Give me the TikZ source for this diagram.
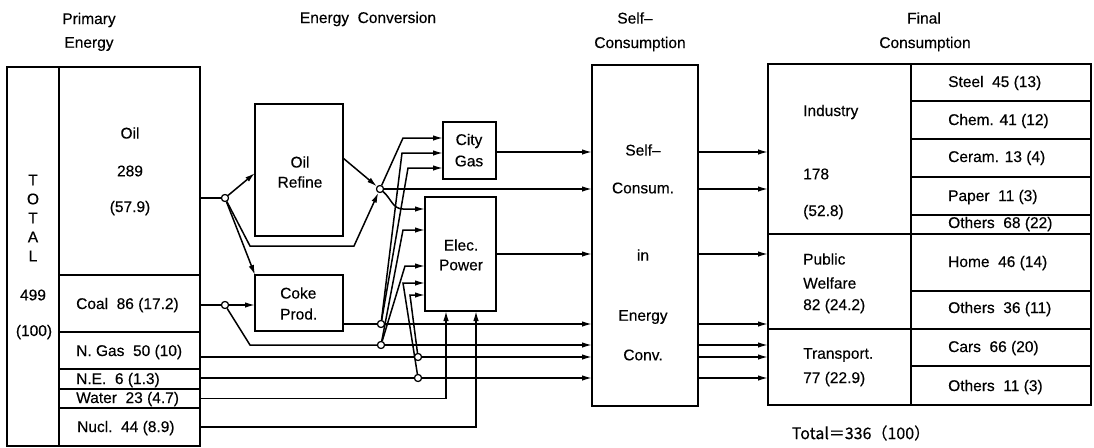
\documentclass[tikz,border=0pt]{standalone}
\usepackage{fontspec}
\setmainfont{Liberation Sans}[FakeBold=0.35]
\newfontfamily\cjkjp{Noto Sans CJK JP}[FakeBold=0.35]
\usetikzlibrary{arrows.meta}
\begin{document}
\begin{tikzpicture}[x=1pt,y=-1pt,
  box/.style={draw, line width=2.3pt, inner sep=0pt, outer sep=0pt},
  ln/.style={line width=1.5pt},
  arr/.style={ln, -{Latex[length=10pt,width=5.5pt]}},
  jn/.style={circle, draw, fill=white, line width=1.1pt, inner sep=0pt, minimum size=7pt},
  txt/.style={inner sep=0pt, font=\fontsize{15.5}{18}\selectfont},
  ltxt/.style={txt, anchor=west}]
\useasboundingbox (0,0) rectangle (1094,447);

% headers
\node[txt] (h1a) at (89,20) {Primary};
\node[txt] (h1b) at (89,44) {Energy};
\node[txt] (h2) at (368,19) {Energy\ \ Conversion};
\node[txt] (h3a) at (635,18) {Self–};
\node[txt] (h3b) at (640,44) {Consumption};
\node[txt] (h4a) at (924,18) {Final};
\node[txt] (h4b) at (925,44) {Consumption};

% primary energy block
\node[box, minimum width=52pt, minimum height=379pt] (total) at (33,256.5) {};
\node[box, minimum width=141pt, minimum height=208pt] (oil) at (129.5,171) {};
\node[box, minimum width=141pt, minimum height=57pt] (coal) at (129.5,303.5) {};
\node[box, minimum width=141pt, minimum height=37pt] (ngas) at (129.5,350.5) {};
\node[box, minimum width=141pt, minimum height=20pt] (ne) at (129.5,379) {};
\node[box, minimum width=141pt, minimum height=19pt] (water) at (129.5,398.5) {};
\node[box, minimum width=141pt, minimum height=38pt] (nucl) at (129.5,427) {};

\node[txt, align=center, font=\fontsize{15.5}{19}\selectfont] (ttot) at (33,218) {T\\O\\T\\A\\L};
\node[txt] (t499) at (33,295) {499};
\node[txt] (t100) at (34,332) {(100)};
\node[txt] (toil1) at (130,133) {Oil};
\node[txt] (toil2) at (130,171) {289};
\node[txt] (toil3) at (130,208) {(57.9)};
\node[ltxt] (tcoal) at (76,305) {Coal\ \ 86 (17.2)};
\node[ltxt] (tngas) at (76,352) {N. Gas\ \ 50 (10)};
\node[ltxt] (tne) at (76,380) {N.E.\ \ 6 (1.3)};
\node[ltxt] (twater) at (76,399) {Water\ \ 23 (4.7)};
\node[ltxt] (tnucl) at (77,428) {Nucl.\ \ 44 (8.9)};

% conversion boxes
\node[box, minimum width=88pt, minimum height=132pt] (refine) at (299,170) {};
\node[txt] (trefa) at (300,162) {Oil};
\node[txt] (trefb) at (300,182) {Refine};
\node[box, minimum width=88pt, minimum height=56pt] (coke) at (299,303) {};
\node[ltxt] (tcokea) at (280,293) {Coke};
\node[ltxt] (tcokeb) at (280,314) {Prod.};
\node[box, minimum width=53pt, minimum height=57pt] (city) at (469.5,150.5) {};
\node[txt] (tcitya) at (469,141) {City};
\node[txt] (tcityb) at (469,161) {Gas};
\node[box, minimum width=71pt, minimum height=114pt] (elec) at (460.5,254) {};
\node[txt] (teleca) at (461,245) {Elec.};
\node[txt] (telecb) at (461,265) {Power};

% self consumption
\node[box, minimum width=106pt, minimum height=341pt] (self) at (645,235.5) {};
\node[txt] (ts1) at (643,150) {Self–};
\node[txt] (ts2) at (643,188) {Consum.};
\node[txt] (ts3) at (643,255) {in};
\node[txt] (ts4) at (643,317) {Energy};
\node[txt] (ts5) at (643,355) {Conv.};

% final consumption
\node[box, minimum width=143pt, minimum height=170pt] (ind) at (839.5,149) {};
\node[box, minimum width=143pt, minimum height=95pt] (pub) at (839.5,281.5) {};
\node[box, minimum width=143pt, minimum height=76pt] (tra) at (839.5,367) {};
\node[box, minimum width=180pt, minimum height=37pt] (steel) at (1001,82.5) {};
\node[box, minimum width=180pt, minimum height=38pt] (chem) at (1001,120) {};
\node[box, minimum width=180pt, minimum height=38pt] (ceram) at (1001,158) {};
\node[box, minimum width=180pt, minimum height=38pt] (paper) at (1001,196) {};
\node[box, minimum width=180pt, minimum height=19pt] (othA) at (1001,224.5) {};
\node[box, minimum width=180pt, minimum height=57pt] (home) at (1001,262.5) {};
\node[box, minimum width=180pt, minimum height=38pt] (othB) at (1001,310) {};
\node[box, minimum width=180pt, minimum height=37pt] (cars) at (1001,347.5) {};
\node[box, minimum width=180pt, minimum height=39pt] (othC) at (1001,385.5) {};

\node[ltxt] (tind1) at (803,112) {Industry};
\node[ltxt] (tind2) at (803,174) {178};
\node[ltxt] (tind3) at (803,212) {(52.8)};
\node[ltxt] (tpub1) at (803,259) {Public};
\node[ltxt] (tpub2) at (803,283) {Welfare};
\node[ltxt] (tpub3) at (803,306) {82 (24.2)};
\node[ltxt] (ttra1) at (803,355) {Transport.};
\node[ltxt] (ttra2) at (803,379) {77 (22.9)};

\node[ltxt] (tsteel) at (948,83) {Steel\ \ 45 (13)};
\node[ltxt] (tchem) at (948,121) {Chem. 41 (12)};
\node[ltxt] (tceram) at (948,158) {Ceram. 13 (4)};
\node[ltxt] (tpaper) at (948,197) {Paper\ \ 11 (3)};
\node[ltxt] (tothA) at (948,224) {Others\ \ 68 (22)};
\node[ltxt] (thome) at (948,263) {Home\ \ 46 (14)};
\node[ltxt] (tothB) at (948,309) {Others\ \ 36 (11)};
\node[ltxt] (tcars) at (948,348) {Cars\ \ 66 (20)};
\node[ltxt] (tothC) at (948,387) {Others\ \ 11 (3)};

\node[inner sep=0pt, font=\cjkjp\fontsize{16}{18}\selectfont] (ttotal) at (861,433) {Total＝336（100）};

% junctions
\node[jn] (j1) at (225,198) {};
\node[jn] (j5) at (225,305) {};
\node[jn] (j2) at (380,189) {};
\node[jn] (j3) at (381,324) {};
\node[jn] (j4) at (381,345) {};
\node[jn] (j6) at (418,357) {};
\node[jn] (j7) at (418,378) {};

% oil
\draw[ln] (oil.east |- j1) -- (j1);
\draw[arr] (j1) -- ([yshift=-3pt]refine.west);
\draw[arr] (j1) -- (coke.north west);
\draw[arr] (j1) -- (250,246) -- (354,246) -- (j2);
\draw[arr] ([yshift=12pt]refine.east) -- (j2);
\draw[arr] (j2) -- (self.west |- j2);
\draw[arr] (j2) -- (403,138) -- ([yshift=12.5pt]city.west);
\draw[arr] (j2) to[out=-40,in=180] (403,209) -- ([yshift=45pt]elec.west);

% coal
\draw[ln] (coal.east |- j5) -- (j5);
\draw[arr] (j5) -- (coke.west |- j5);
\draw[ln] (j5) -- (250,345) -- (j4);
\draw[arr] (j4) -- (self.west |- j4);

% coke
\draw[ln] (coke.east |- j3) -- (j3);
\draw[arr] (j3) -- (self.west |- j3);
\draw[arr] (j3) -- (402,153) -- ([yshift=-2.5pt]city.west);
\draw[arr] (j3) -- (408,168) -- ([yshift=-17.5pt]city.west);
\draw[arr] (j4) -- (403,230) -- ([yshift=24pt]elec.west);
\draw[arr] (j4) -- (405,266) -- ([yshift=-12pt]elec.west);

% n.gas, n.e.
\draw[ln] (ngas.east |- j6) -- (j6);
\draw[arr] (j6) -- (self.west |- j6);
\draw[ln] (ne.east |- j7) -- (j7);
\draw[arr] (j7) -- (self.west |- j7);
\draw[arr] (j7) -- (403,283) -- ([yshift=-29pt]elec.west);
\draw[arr] (j6) -- (410,295) -- ([yshift=-41pt]elec.west);

% water, nuclear
\draw[arr] (water.east) -| ([xshift=-14.5pt]elec.south);
\draw[arr] (nucl.east) -| ([xshift=15.5pt]elec.south);

% outputs of conversion
\draw[arr] ([yshift=-1.5pt]city.east) -- (self.west |- 0,152);
\draw[arr] (elec.east) -- (self.west |- elec.east);

% self -> final
\draw[arr] (self.east |- 0,152) -- (ind.west |- 0,152);
\draw[arr] (self.east |- j2) -- (ind.west |- j2);
\draw[arr] (self.east |- elec.east) -- (pub.west |- elec.east);
\draw[arr] (self.east |- j3) -- (pub.west |- j3);
\draw[arr] (self.east |- j4) -- (tra.west |- j4);
\draw[arr] (self.east |- j6) -- (tra.west |- j6);
\draw[arr] (self.east |- j7) -- (tra.west |- j7);

% redraw junction circles on top
\foreach \j in {j1,j2,j3,j4,j5,j6,j7} \node[jn] at (\j) {};
\end{tikzpicture}
\end{document}
